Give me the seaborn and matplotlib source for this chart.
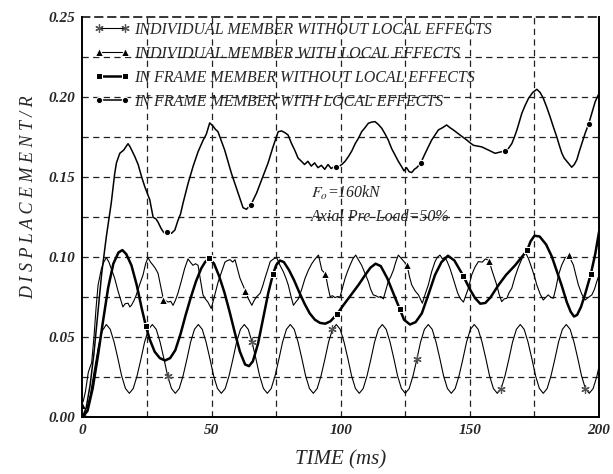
import matplotlib
matplotlib.use("Agg")
import matplotlib.pyplot as plt
import seaborn as sns
import numpy as np

# ─── Datos ───────────────────────────────────────────────────────────────────

# Individual member without local effects (asterisco)
t1 = [0.0, 1.5, 3.1, 4.6, 6.2, 7.7,
      9.3, 10.8, 12.3, 13.8, 15.2, 16.7, 18.2, 19.7, 21.2, 22.7, 24.1, 25.6,
      27.1, 28.6, 30.1, 31.6, 33.0, 34.5, 36.0, 37.5, 39.0, 40.5, 41.9, 43.4,
      44.9, 46.4, 47.9, 49.4, 50.8, 52.3, 53.8, 55.3, 56.8, 58.3, 59.7, 61.2,
      62.7, 64.2, 65.7, 67.2, 68.6, 70.1, 71.6, 73.1, 74.6, 76.1, 77.5, 79.0,
      80.5, 82.0, 83.5, 85.0, 86.4, 87.9, 89.4, 90.9, 92.4, 93.9, 95.3, 96.8,
      98.3, 99.8, 101.3, 102.8, 104.2, 105.7, 107.2, 108.7, 110.2, 111.7, 113.1, 114.6,
      116.1, 117.6, 119.1, 120.6, 122.0, 123.5, 125.0, 126.5, 128.0, 129.5, 130.9, 132.4,
      133.9, 135.4, 136.9, 138.4, 139.8, 141.3, 142.8, 144.3, 145.8, 147.3, 148.7, 150.2,
      151.7, 153.2, 154.7, 156.2, 157.6, 159.1, 160.6, 162.1, 163.6, 165.1, 166.5, 168.0,
      169.5, 171.0, 172.5, 174.0, 175.4, 176.9, 178.4, 179.9, 181.4, 182.9, 184.3, 185.8,
      187.3, 188.8, 190.3, 191.8, 193.2, 194.7, 196.2, 197.7, 199.2, 200.0]
y1 = [0.0, 0.004, 0.014, 0.029, 0.044, 0.054,
      0.058, 0.055, 0.047, 0.0365, 0.026, 0.018, 0.015, 0.018, 0.026, 0.0365, 0.047, 0.055,
      0.058, 0.055, 0.047, 0.0365, 0.026, 0.018, 0.015, 0.018, 0.026, 0.0365, 0.047, 0.055,
      0.058, 0.055, 0.047, 0.0365, 0.026, 0.018, 0.015, 0.018, 0.026, 0.0365, 0.047, 0.055,
      0.058, 0.055, 0.047, 0.0365, 0.026, 0.018, 0.015, 0.018, 0.026, 0.0365, 0.047, 0.055,
      0.058, 0.055, 0.047, 0.0365, 0.026, 0.018, 0.015, 0.018, 0.026, 0.0365, 0.047, 0.055,
      0.058, 0.055, 0.047, 0.0365, 0.026, 0.018, 0.015, 0.018, 0.026, 0.0365, 0.047, 0.055,
      0.058, 0.055, 0.047, 0.0365, 0.026, 0.018, 0.015, 0.018, 0.026, 0.0365, 0.047, 0.055,
      0.058, 0.055, 0.047, 0.0365, 0.026, 0.018, 0.015, 0.018, 0.026, 0.0365, 0.047, 0.055,
      0.058, 0.055, 0.047, 0.0365, 0.026, 0.018, 0.015, 0.018, 0.026, 0.0365, 0.047, 0.055,
      0.058, 0.055, 0.047, 0.0365, 0.026, 0.018, 0.015, 0.018, 0.026, 0.0365, 0.047, 0.055,
      0.058, 0.055, 0.047, 0.0365, 0.026, 0.018, 0.015, 0.018, 0.026, 0.032]
m1 = [0, 32.5, 65.0, 97.5, 130.0, 162.5, 195.0]

# Individual member with local effects (triángulo)
t2 = [0.0, 1.2, 2.3, 2.9, 3.6, 4.5, 5.3, 6.1, 7.4, 8.3, 9.3, 10.3, 11.4, 12.5,
      13.8, 15.1, 15.7, 16.6, 17.7, 18.4, 19.0, 20.0, 20.9, 22.2, 23.5, 24.5, 25.4,
      26.4, 27.4, 28.3, 29.3, 30.3, 31.4, 32.2, 33.2, 34.2, 35.1, 36.0, 37.0, 38.3,
      39.6, 40.9, 41.8, 42.8, 43.8, 44.8, 45.7, 46.7, 47.6, 48.6, 49.9, 51.2, 52.6,
      53.9, 55.2, 56.2, 57.2, 58.2, 59.1, 60.0, 61.0, 63.1, 64.3, 65.6, 66.5, 67.5,
      68.8, 69.8, 70.7, 71.7, 72.7, 74.0, 75.2, 76.5, 77.8, 78.8, 79.7, 80.7, 81.7,
      82.6, 83.6, 84.9, 86.2, 87.5, 88.8, 90.1, 91.4, 92.7, 94.1, 95.0, 95.9, 96.8,
      97.8, 98.8, 99.7, 100.7, 101.7, 102.6, 103.6, 104.7, 105.8, 107.0, 108.1,
      109.4, 110.7, 111.6, 112.6, 113.6, 114.6, 115.5, 116.5, 117.4, 118.4, 119.4,
      120.4, 121.3, 122.3, 123.6, 125.7, 126.6, 127.5, 128.8, 130.1, 131.6, 132.7,
      133.9, 135.2, 136.5, 137.4, 138.4, 139.4, 140.4, 141.3, 142.3, 143.3, 144.3,
      145.2, 146.2, 147.5, 148.4, 149.4, 150.7, 152.0, 153.3, 154.8, 156.0, 157.4,
      158.5, 159.5, 160.4, 161.3, 162.3, 163.3, 164.3, 165.2, 166.2, 167.5, 168.8,
      170.1, 171.4, 172.7, 174.0, 175.0, 175.9, 177.2, 178.4, 179.4, 180.3, 181.3,
      182.3, 183.3, 184.3, 185.5, 186.8, 188.4, 189.2, 190.1, 191.0, 192.0, 193.3,
      194.6, 195.9, 197.2, 198.2, 199.1, 200.0]
y2 = [0.0075, 0.016, 0.028, 0.031, 0.034, 0.050, 0.068, 0.0827, 0.093, 0.097, 0.0998,
      0.097, 0.092, 0.087, 0.079, 0.072, 0.069, 0.071, 0.0713, 0.069, 0.070, 0.073,
      0.0765, 0.083, 0.089, 0.096, 0.0998, 0.097, 0.095, 0.093, 0.090, 0.082, 0.0735,
      0.073, 0.072, 0.0725, 0.070, 0.073, 0.0775, 0.085, 0.093, 0.099, 0.097, 0.095,
      0.096, 0.095, 0.086, 0.0765, 0.074, 0.072, 0.068, 0.076, 0.0848, 0.091, 0.097,
      0.098, 0.0985, 0.097, 0.0985, 0.093, 0.087, 0.0790, 0.074, 0.070, 0.073, 0.0754,
      0.0775, 0.082, 0.087, 0.092, 0.0973, 0.099, 0.0998, 0.095, 0.091, 0.087, 0.0827,
      0.076, 0.070, 0.072, 0.074, 0.080, 0.0869, 0.092, 0.096, 0.099, 0.1014, 0.092,
      0.0896, 0.082, 0.0754, 0.076, 0.0748, 0.0755, 0.075, 0.081, 0.0869, 0.091, 0.095,
      0.099, 0.1014, 0.098, 0.095, 0.090, 0.0848, 0.080, 0.0765, 0.076, 0.075, 0.0755,
      0.074, 0.079, 0.0848, 0.088, 0.092, 0.097, 0.1014, 0.099, 0.095, 0.088, 0.0827,
      0.079, 0.0765, 0.0713, 0.077, 0.0827, 0.091, 0.0973, 0.100, 0.1014, 0.099, 0.100,
      0.097, 0.093, 0.088, 0.0827, 0.078, 0.0744, 0.072, 0.076, 0.0806, 0.089, 0.094,
      0.0973, 0.097, 0.099, 0.098, 0.092, 0.087, 0.0827, 0.077, 0.0723, 0.074, 0.0744,
      0.078, 0.0806, 0.088, 0.094, 0.099, 0.1035, 0.099, 0.093, 0.088, 0.0827, 0.077,
      0.0733, 0.075, 0.0765, 0.075, 0.0744, 0.081, 0.089, 0.095, 0.0994, 0.1015, 0.098,
      0.095, 0.089, 0.0827, 0.077, 0.0733, 0.075, 0.0765, 0.080, 0.0848, 0.089]
m2 = [0, 31.4, 63.1, 94.1, 125.7, 157.4, 188.4]

# In frame member without local effects (cuadrado)
t3 = [0, 2, 4, 6, 8, 10, 12, 14, 15.5, 17, 19, 21, 23, 24.6, 26, 28, 30, 32, 34,
      36, 38, 40, 42, 44, 46, 47.5, 49.1, 51, 53, 55, 57, 59, 61, 63, 64.5, 66, 68,
      70, 72, 73.8, 75, 76.5, 78, 80, 82, 84, 86, 88, 90, 92, 94, 96, 98.6, 101, 104,
      107, 109.5, 111.5, 113.5, 115.5, 118, 120, 122.9, 124.5, 126.8, 129, 131.4,
      134, 136.5, 139, 141.5, 144, 147.4, 150, 152, 154, 156, 158, 161, 164, 167.5,
      170, 172.2, 173.5, 175, 177, 179.5, 181.7, 183.5, 185.6, 187.5, 189, 190.3,
      191.5, 193, 194.6, 196.8, 198.5, 200]
y3 = [0, 0.004, 0.018, 0.038, 0.060, 0.081, 0.096, 0.103, 0.1045, 0.102, 0.095,
      0.083, 0.068, 0.057, 0.049, 0.041, 0.037, 0.0355, 0.037, 0.042, 0.052, 0.064,
      0.075, 0.085, 0.093, 0.097, 0.0995, 0.096, 0.088, 0.078, 0.066, 0.053, 0.041,
      0.033, 0.032, 0.035, 0.046, 0.062, 0.078, 0.0895, 0.095, 0.098, 0.097, 0.092,
      0.0855, 0.078, 0.071, 0.065, 0.061, 0.059, 0.0585, 0.060, 0.0645, 0.070, 0.0765,
      0.083, 0.089, 0.0935, 0.096, 0.0945, 0.087, 0.079, 0.0675, 0.061, 0.058, 0.0595,
      0.065, 0.077, 0.089, 0.097, 0.101, 0.098, 0.0885, 0.080, 0.0745, 0.071, 0.0715,
      0.075, 0.0825, 0.089, 0.095, 0.100, 0.1045, 0.110, 0.1135, 0.113, 0.108, 0.1005,
      0.092, 0.082, 0.072, 0.066, 0.063, 0.064, 0.069, 0.077, 0.0895, 0.102, 0.116]
m3 = [24.6, 49.1, 73.8, 98.6, 122.9, 147.4, 172.2, 196.8]

# In frame member with local effects (círculo)
t4 = [0.0, 1.5, 3.0, 4.5, 6.0, 7.5, 9.3, 11.2, 12.5, 13.2, 14.5, 16.0, 17.7, 18.5,
      20.3, 21.6, 23.0, 24.2, 26.1, 27.4, 28.5, 29.3, 30.5, 31.5, 32.7, 33.5, 34.5,
      35.8, 37.0, 38.0, 39.0, 40.9, 42.9, 44.8, 46.7, 48.0, 49.3, 50.6, 51.5, 52.5,
      55.1, 57.7, 60.3, 62.2, 63.5, 65.3, 67.4, 69.3, 71.9, 73.8, 75.8, 77.1, 78.3,
      79.6, 81.0, 82.2, 83.5, 84.8, 86.0, 87.3, 88.6, 89.9, 91.2, 92.5, 93.8, 95.1,
      96.3, 97.3, 98.3, 99.5, 100.4, 101.7, 103.0, 104.3, 105.6, 106.9, 108.1, 109.4,
      110.7, 112.0, 113.3, 114.6, 115.9, 117.2, 118.4, 119.7, 121.0, 122.3, 123.6,
      124.5, 125.5, 126.5, 127.5, 128.5, 129.4, 130.9, 132.7, 135.2, 137.8, 139.4,
      141.0, 142.3, 143.6, 146.2, 148.8, 150.1, 151.4, 153.0, 154.6, 155.9, 157.2,
      158.5, 159.7, 161.0, 162.3, 163.5, 164.9, 166.2, 167.2, 168.2, 169.2, 170.1,
      171.4, 172.7, 174.3, 175.9, 177.2, 178.4, 179.7, 181.0, 182.3, 183.6, 184.6,
      185.6, 186.5, 187.5, 188.5, 189.4, 190.4, 191.4, 192.3, 193.3, 194.6, 196.0,
      198.5, 200.0]
y4 = [0.0, 0.006, 0.020, 0.040, 0.065, 0.090, 0.113, 0.134, 0.152, 0.159, 0.165,
      0.167, 0.171, 0.169, 0.163, 0.158, 0.150, 0.144, 0.136, 0.125, 0.124, 0.122,
      0.118, 0.1155, 0.116, 0.1165, 0.115, 0.117, 0.123, 0.127, 0.134, 0.146, 0.157,
      0.166, 0.173, 0.177, 0.184, 0.182, 0.180, 0.1785, 0.167, 0.1525, 0.140, 0.131,
      0.130, 0.133, 0.140, 0.148, 0.159, 0.169, 0.1785, 0.179, 0.178, 0.1765, 0.171,
      0.167, 0.162, 0.160, 0.158, 0.160, 0.157, 0.159, 0.156, 0.1575, 0.155, 0.158,
      0.1555, 0.1565, 0.1566, 0.157, 0.158, 0.160, 0.163, 0.1665, 0.171, 0.1745,
      0.1785, 0.181, 0.1838, 0.1845, 0.1848, 0.183, 0.1806, 0.177, 0.1733, 0.168,
      0.164, 0.160, 0.1566, 0.154, 0.156, 0.1535, 0.153, 0.155, 0.156, 0.1587, 0.165,
      0.1733, 0.1796, 0.181, 0.1827, 0.181, 0.1796, 0.1764, 0.1733, 0.1715, 0.170,
      0.1695, 0.169, 0.168, 0.167, 0.166, 0.165, 0.1655, 0.166, 0.1666, 0.168, 0.171,
      0.175, 0.1796, 0.185, 0.190, 0.195, 0.1994, 0.203, 0.205, 0.203, 0.1994, 0.194,
      0.188, 0.1815, 0.1754, 0.170, 0.165, 0.162, 0.160, 0.158, 0.1563, 0.158, 0.161,
      0.166, 0.171, 0.1775, 0.1835, 0.1973, 0.2025]
m4 = [32.7, 65.3, 98.3, 130.9, 163.5, 196.0]

etiquetas = ["INDIVIDUAL MEMBER WITHOUT LOCAL EFFECTS",
             "INDIVIDUAL MEMBER WITH LOCAL EFFECTS",
             "IN FRAME MEMBER WITHOUT LOCAL EFFECTS",
             "IN FRAME MEMBER WITH LOCAL EFFECTS"]

SERIF = "Liberation Serif"


def _indices(t, marcas):
    t = np.asarray(t)
    return [int(np.argmin(np.abs(t - m))) for m in marcas]


sns.set_theme(style="white")
plt.rcParams.update({
    "font.family": SERIF,
    "mathtext.fontset": "stix",
    "axes.edgecolor": "black",
    "axes.linewidth": 1.4,
})

fig = plt.figure(figsize=(6.13, 4.74), dpi=100)
ax = fig.add_axes([0.1343, 0.1196, 0.8430, 0.8439])

series = [
    (t1, y1, m1, dict(marker=(6, 2, 0), markersize=6, markeredgewidth=0.9,
                      markeredgecolor="#555555", lw=0.8)),
    (t2, y2, m2, dict(marker="^", markersize=5.5, lw=0.8)),
    (t3, y3, m3, dict(marker="s", markersize=5, lw=1.8)),
    (t4, y4, m4, dict(marker="o", markersize=4.5, lw=1.1)),
]
for (t, y, marcas, estilo), lab in zip(series, etiquetas):
    sns.lineplot(x=t, y=y, ax=ax, color="black", sort=False, estimator=None,
                 markevery=_indices(t, marcas), label=lab, **estilo)

ax.set_xlim(0, 200)
ax.set_ylim(0, 0.25)
ax.set_xticks([0, 50, 100, 150, 200])
ax.set_yticks([0, 0.05, 0.10, 0.15, 0.20, 0.25])
ax.set_yticklabels(["0.00", "0.05", "0.10", "0.15", "0.20", "0.25"])
ax.spines["top"].set_linestyle((0, (5, 3.5)))
ax.spines["top"].set_linewidth(1.1)

# rejilla discontinua cada 25 ms y cada 0.025
for xv in np.arange(25, 200, 25):
    ax.axvline(xv, color="#222222", lw=0.9, ls=(0, (5, 3.5)), zorder=0.5)
for yv in np.arange(0.025, 0.25, 0.025):
    ax.axhline(yv, color="#222222", lw=0.9, ls=(0, (5, 3.5)), zorder=0.5)

for lbl in ax.get_xticklabels() + ax.get_yticklabels():
    lbl.set_fontstyle("italic")
    lbl.set_fontweight("bold")
    lbl.set_fontsize(11)
ax.tick_params(length=0, pad=5)

ax.set_xlabel("TIME (ms)", fontsize=15, style="italic", labelpad=9)
ax.set_ylabel("D I S P L A C E M E N T / R", fontsize=13, style="italic")
ax.yaxis.set_label_coords(-0.088, 0.55)

ax.text(88.5, 0.137, r"$F_o$=160kN", fontsize=11.5, style="italic")
ax.text(88.5, 0.1225, "Axial Pre-Load=50%", fontsize=11.5, style="italic")

leg = ax.legend(loc="upper left", bbox_to_anchor=(0.005, 1.012), numpoints=2,
                frameon=False, handlelength=2.2, handletextpad=0.25,
                labelspacing=0.5, borderaxespad=0.2,
                prop={"family": SERIF, "style": "italic", "size": 11.5})

fig.savefig("out.png", dpi=100)
